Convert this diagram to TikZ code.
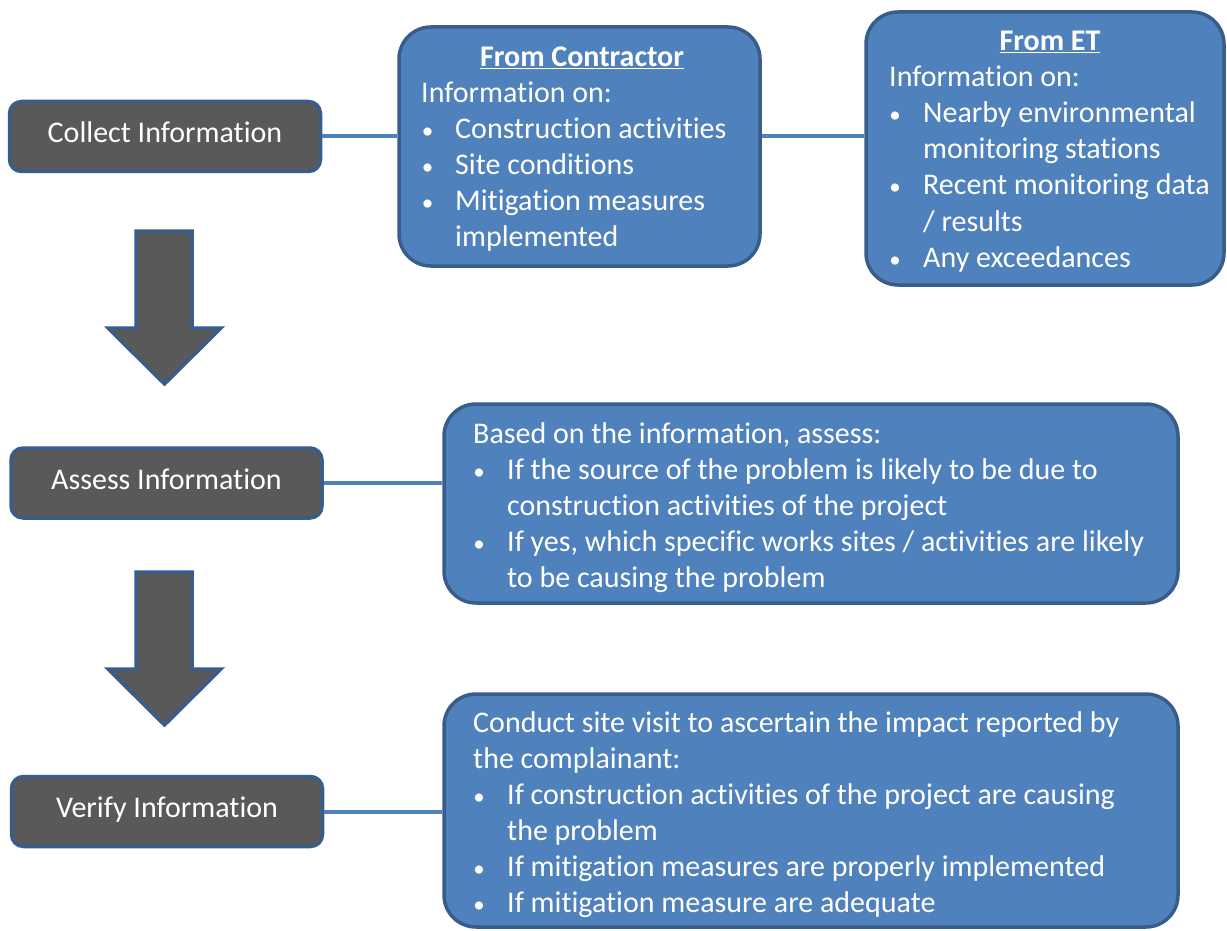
\documentclass[tikz,border=0pt]{standalone}
\usepackage{fontspec}
\setmainfont{Carlito}[Ligatures=NoCommon]
\definecolor{boxblue}{HTML}{4F81BD}
\definecolor{edgeblue}{HTML}{385D8A}
\definecolor{boxgray}{HTML}{595959}
\tikzset{
	stepbox/.style={draw=edgeblue, line width=3.5pt, fill=boxgray, rounded corners=12pt,
		minimum width=311pt, minimum height=70pt, inner sep=0pt, text=white,
		font=\fontsize{30}{36}\selectfont, text height=20pt, text depth=8pt},
	infobox/.style={draw=edgeblue, line width=3.5pt, fill=boxblue, rounded corners=32pt, inner sep=0pt},
	txt/.style={anchor=base west, inner sep=0pt, text=white, font=\fontsize{30}{36}\selectfont},
	bul/.style={txt, anchor=base, font=\fontsize{23}{36}\selectfont},
	link/.style={draw=boxblue, line width=4pt},
	downarrow/.style={draw=edgeblue, line width=3.5pt, fill=boxgray, line join=miter}
}
\begin{document}
\begin{tikzpicture}[x=1pt, y=-1pt]
		\useasboundingbox (0,0) rectangle (1227,931);
		% steps on the left
		\node[stepbox] (collect) at (165,136.5) {Collect Information};
		\node[stepbox] (assess) at (166.5,483) {Assess Information};
		\node[stepbox] (verify) at (167,811.5) {Verify Information};
		\foreach \y in {231,572}{
		\draw[downarrow] (136,\y) -- (192,\y) -- (192,\y+97) -- (221,\y+97) -- (164.5,\y+153) -- (108,\y+97) -- (136,\y+97) -- cycle;
		}
		% information boxes
		\node[infobox, minimum width=361pt, minimum height=239pt] (contractor) at (579.5,146.5) {};
		\node[infobox, minimum width=358pt, minimum height=273pt] (et) at (1045,148.5) {};
		\node[infobox, minimum width=734pt, minimum height=199pt] (assessinfo) at (811,503.5) {};
		\node[infobox, minimum width=734pt, minimum height=233pt] (verifyinfo) at (811,810.5) {};
		\draw[link] (collect.east) -- (collect.east -| contractor.west);
		\draw[link] (contractor.east |- collect) -- (et.west |- collect);
		\draw[link] (assess.east) -- (assess.east -| assessinfo.west);
		\draw[link] (verify.east) -- (verify.east -| verifyinfo.west);
		% from contractor
		\node[txt, anchor=base] (conhead) at (582,67) {\underline{\textbf{From Contractor}}};
		\foreach \x/\y/\t [count=\i] in {
			421/103/{Information on:},
			455/139/{Construction activities},
			455/175/{Site conditions},
			455/211/{Mitigation measures},
			455/247/{implemented}
		}{
		\node[txt] (con\i) at (\x,\y) {\t};
		}
		\foreach \y [count=\i] in {139,175,211} \node[bul] (conb\i) at (427.5,\y) {•};
		% from ET
		\node[txt, anchor=base] (ethead) at (1050,51) {\underline{\textbf{From ET}}};
		\foreach \x/\y/\t [count=\i] in {
			889/87/{Information on:},
			923/123/{Nearby environmental},
			923/159/{monitoring stations},
			923/195/{Recent monitoring data},
			923/231/{/ results},
			923/267/{Any exceedances}
		}{
		\node[txt] (et\i) at (\x,\y) {\t};
		}
		\foreach \y [count=\i] in {123,195,267} \node[bul] (etb\i) at (895,\y) {•};
		% assessment
		\foreach \x/\y/\t [count=\i] in {
			473/443/{Based on the information, assess:},
			507/479/{If the source of the problem is likely to be due to},
			507/515/{construction activities of the project},
			507/551/{If yes, which specific works sites / activities are likely},
			507/587/{to be causing the problem}
		}{
		\node[txt] (as\i) at (\x,\y) {\t};
		}
		\foreach \y [count=\i] in {479,551} \node[bul] (asb\i) at (479,\y) {•};
		% verification
		\foreach \x/\y/\t [count=\i] in {
			473/732/{Conduct site visit to ascertain the impact reported by},
			473/768/{the complainant:},
			507/804/{If construction activities of the project are causing},
			507/840/{the problem},
			507/876/{If mitigation measures are properly implemented},
			507/912/{If mitigation measure are adequate}
		}{
		\node[txt] (ve\i) at (\x,\y) {\t};
		}
		\foreach \y [count=\i] in {804,876,912} \node[bul] (veb\i) at (479,\y) {•};
\end{tikzpicture}
\end{document}
